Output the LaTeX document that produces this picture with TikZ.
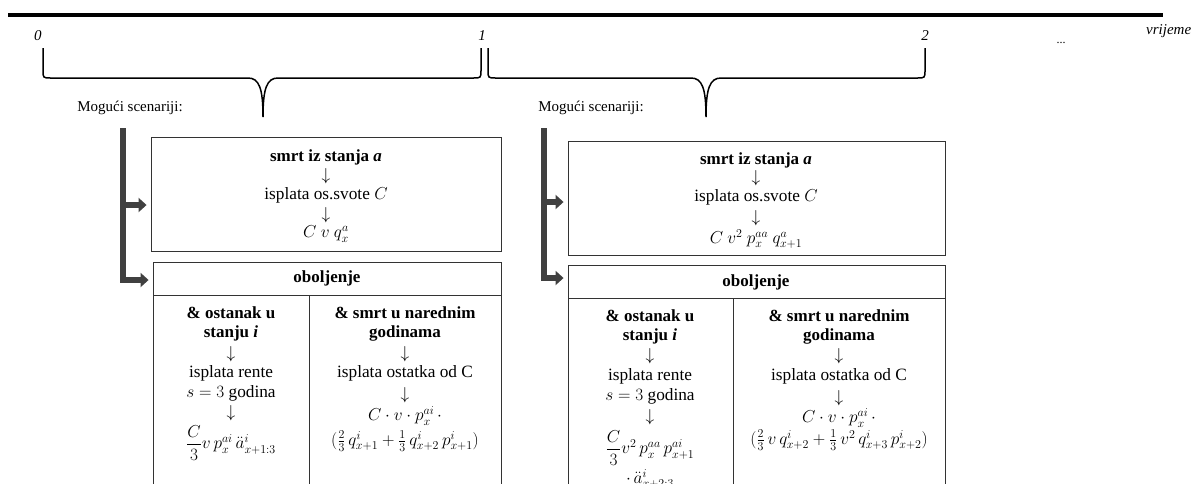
\documentclass[tikz,border=0pt]{standalone}
\usepackage{amsmath}
\usepackage{fontspec}
\setmainfont{Liberation Serif}
\usetikzlibrary{arrows.meta,positioning,calc}
\definecolor{bardark}{HTML}{404040}

\begin{document}
\begin{tikzpicture}[x=1pt, y=-1pt,
    box/.style={draw=black!80, line width=0.9pt, inner sep=0pt},
    sep/.style={draw=black!80, line width=0.9pt},
    txt/.style={font=\fontsize{17.28}{20}\selectfont, inner sep=0pt},
    btxt/.style={font=\fontsize{17}{20}\selectfont\bfseries, inner sep=0pt},
    tick/.style={font=\fontsize{15}{18}\selectfont\itshape, inner sep=0pt},
    arr/.style={-{Triangle[length=8pt, width=14pt]}, line width=5.5pt, bardark, shorten >=4pt},
    brace/.style={line width=1.5pt, black},
]
\useasboundingbox (0,0) rectangle (1194,483);
\clip (0,0) rectangle (1194,483);

% time axis
\coordinate (t0) at (8,15);
\coordinate (tend) at (1163,15);
\draw[line width=3.5pt] (t0) -- (tend);
\node[tick] (n0) at (38,36) {0};
\node[tick] (n1) at (482,36) {1};
\node[tick] (n2) at (925,36) {2};
\node[font=\fontsize{12}{14}\selectfont, inner sep=0pt] (dots) at (1061,43) {...};
\node[tick, anchor=west] (vr) at (1146,31) {vrijeme};

% braces
\draw[brace] (43,48) -- (43,70) .. controls (43,78) .. (51,78) -- (248,78)
    .. controls (259,78) and (263,88) .. (263,117) .. controls (263,88) and (267,78) .. (278,78)
    -- (473,78) .. controls (481,78) .. (481,70) -- (481,48);
\draw[brace] (488,48) -- (488,70) .. controls (488,78) .. (496,78) -- (691,78)
    .. controls (702,78) and (706,88) .. (706,117) .. controls (706,88) and (710,78) .. (721,78)
    -- (917,78) .. controls (925,78) .. (925,70) -- (925,48);

\node[font=\fontsize{15}{18}\selectfont, inner sep=0pt] (mogA) at (130,108) {Mogući scenariji:};
\node[font=\fontsize{15}{18}\selectfont, inner sep=0pt] (mogB) at (591,108) {Mogući scenariji:};

% year 1
\node[box, minimum width=350pt, minimum height=114pt] (smrtA) at (326,194) {};
\node[box, minimum width=348pt, minimum height=260pt] (oboA) at (327,392) {};
\draw[sep] (153,295) -- (501,295);
\draw[sep] (309,295) -- (309,522);

\coordinate (barAtop) at (123,128);
\coordinate (barAmid) at (123,205);
\coordinate (barAbot) at (123,280);
\draw[arr] (barAtop) -- (barAbot) -- (barAbot -| oboA.west);
\draw[arr] (barAmid) -- (barAmid -| smrtA.west);

\node[btxt] (a1) at (326,157) {smrt iz stanja {\itshape a}};
\node[txt] (a2) at (326,176) {$\downarrow$};
\node[txt] (a3) at (326,195) {isplata os.svote $C$};
\node[txt] (a4) at (326,215) {$\downarrow$};
\node[txt] (a5) at (326,234) {$C\ v\ q_x^{a}$};

\node[btxt] (a6) at (327,278) {oboljenje};

\node[btxt] (a7) at (231,313) {\& ostanak u};
\node[btxt] (a8) at (231,333) {stanju {\itshape i}};
\node[txt] (a9) at (231,354) {$\downarrow$};
\node[txt] (a10) at (231,373) {isplata rente};
\node[txt] (a11) at (231,393) {$s=3$ godina};
\node[txt] (a12) at (231,413) {$\downarrow$};
\node[txt] (a13) at (231,443) {$\dfrac{C}{3}v\,p_x^{ai}\,\ddot{a}^{i}_{x+1:3}$};

\node[btxt] (a14) at (405,313) {\& smrt u narednim};
\node[btxt] (a15) at (405,333) {godinama};
\node[txt] (a16) at (405,354) {$\downarrow$};
\node[txt] (a17) at (405,373) {isplata ostatka od C};
\node[txt] (a18) at (405,395) {$\downarrow$};
\node[txt] (a19) at (405,416) {$C\cdot v\cdot p_x^{ai}\,\cdot$};
\node[txt] (a20) at (405,441) {$(\tfrac{2}{3}\,q^{i}_{x+1}+\tfrac{1}{3}\,q^{i}_{x+2}\,p^{i}_{x+1})$};

% year 2
\node[box, minimum width=377pt, minimum height=114pt] (smrtB) at (756.5,198) {};
\node[box, minimum width=377pt, minimum height=260pt] (oboB) at (756.5,395) {};
\draw[sep] (568,298) -- (945,298);
\draw[sep] (733,298) -- (733,525);

\coordinate (barBtop) at (544,128);
\coordinate (barBmid) at (544,202);
\coordinate (barBbot) at (544,278);
\draw[arr] (barBtop) -- (barBbot) -- (barBbot -| oboB.west);
\draw[arr] (barBmid) -- (barBmid -| smrtB.west);

\node[btxt] (b1) at (756,160) {smrt iz stanja {\itshape a}};
\node[txt] (b2) at (756,178) {$\downarrow$};
\node[txt] (b3) at (756,197) {isplata os.svote $C$};
\node[txt] (b4) at (756,218) {$\downarrow$};
\node[txt] (b5) at (756,239) {$C\ v^2\ p_x^{aa}\ q_{x+1}^{a}$};

\node[btxt] (b6) at (756,282) {oboljenje};

\node[btxt] (b7) at (650,316) {\& ostanak u};
\node[btxt] (b8) at (650,336) {stanju {\itshape i}};
\node[txt] (b9) at (650,356) {$\downarrow$};
\node[txt] (b10) at (650,376) {isplata rente};
\node[txt] (b11) at (650,396) {$s=3$ godina};
\node[txt] (b12) at (650,417) {$\downarrow$};
\node[txt] (b13) at (650,448) {$\dfrac{C}{3}v^2\,p_x^{aa}\,p_{x+1}^{ai}$};
\node[txt] (b14) at (650,479) {$\cdot\,\ddot{a}^{i}_{x+2:3}$};

\node[btxt] (b15) at (839,316) {\& smrt u narednim};
\node[btxt] (b16) at (839,336) {godinama};
\node[txt] (b17) at (839,356) {$\downarrow$};
\node[txt] (b18) at (839,376) {isplata ostatka od C};
\node[txt] (b19) at (839,398) {$\downarrow$};
\node[txt] (b20) at (839,418) {$C\cdot v\cdot p_x^{ai}\,\cdot$};
\node[txt] (b21) at (839,440) {$(\tfrac{2}{3}\,v\,q^{i}_{x+2}+\tfrac{1}{3}\,v^2\,q^{i}_{x+3}\,p^{i}_{x+2})$};
\end{tikzpicture}
\end{document}
